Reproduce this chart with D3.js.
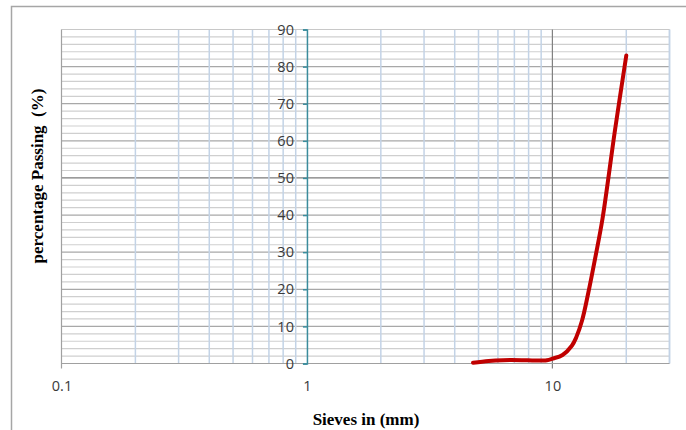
<!DOCTYPE html>
<html>
<head>
<meta charset="utf-8">
<script src="https://cdn.jsdelivr.net/npm/d3@7"></script>
<style>
  body { margin: 0; background: #fff; }
</style>
</head>
<body>
<div id="chart"></div>
<script>
// sieve size (mm) and % passing
const sieves = [4.75, 5.5, 6.3, 7.5, 8.5, 9.5, 10, 11, 12, 12.5, 13.2, 14, 15, 16, 18, 20];
const passing = [0.2, 0.7, 0.9, 0.9, 0.8, 0.9, 1.3, 2.3, 4.8, 7, 11.5, 19, 29, 39, 63, 83];

const xTicks = [0.1, 1, 10];
const yTicks = [0, 10, 20, 30, 40, 50, 60, 70, 80, 90];

const W = 686, H = 430;
const svg = d3.select("#chart").append("svg")
  .attr("width", W).attr("height", H);

// outer frame (only top & left show)
svg.append("path")
  .attr("d", `M11.5,${H} V6.5 H${W}`)
  .attr("fill", "none").attr("stroke", "#a6a6a6").attr("stroke-width", 1.5);

const x = d3.scaleLog().domain([0.1, 30]).range([61.5, 669.5]);
const y = d3.scaleLinear().domain([0, 90]).range([363.5, 29.5]);

const g = svg.append("g");

// horizontal grid every 2
const hLines = d3.range(2, 90, 2);
g.selectAll(".hgrid").data(hLines).enter().append("line")
  .attr("x1", x(0.1)).attr("x2", x(30))
  .attr("y1", d => y(d)).attr("y2", d => y(d))
  .attr("stroke", d => d === 50 ? "#7a7a7a" : (d % 10 === 0 ? "#a8a8a8" : "#cfcfcf"))
  .attr("stroke-width", 1.2);

// vertical grid (minor, light blue)
const vLines = [];
[0.1, 1, 10].forEach(dec => d3.range(2, 10).forEach(k => vLines.push(dec * k)));
vLines.push(30);
g.selectAll(".vgrid").data(vLines.filter(v => v <= 30)).enter().append("line")
  .attr("x1", d => x(d)).attr("x2", d => x(d))
  .attr("y1", y(90)).attr("y2", y(0))
  .attr("stroke", "#c3d3e6").attr("stroke-width", 1.5);

// top line
g.append("line")
  .attr("x1", x(0.1)).attr("x2", x(30)).attr("y1", y(90)).attr("y2", y(90))
  .attr("stroke", "#c8c8c8").attr("stroke-width", 1.2);

// major vertical at 10 and left edge
g.append("line")
  .attr("x1", x(10)).attr("x2", x(10)).attr("y1", y(90)).attr("y2", y(0) + 5)
  .attr("stroke", "#808080").attr("stroke-width", 1.2);
g.append("line")
  .attr("x1", x(0.1)).attr("x2", x(0.1)).attr("y1", y(90)).attr("y2", y(0) + 5)
  .attr("stroke", "#a0a0a0").attr("stroke-width", 1.2);

// x axis line
g.append("line")
  .attr("x1", x(0.1)).attr("x2", x(30)).attr("y1", y(0)).attr("y2", y(0))
  .attr("stroke", "#a0a0a0").attr("stroke-width", 1.2);

// y axis at x = 1
const yAxis = svg.append("g")
  .attr("transform", `translate(${x(1)},0)`)
  .call(d3.axisLeft(y).tickValues(yTicks).tickSize(4).tickPadding(9));
yAxis.select(".domain").attr("stroke", "#3a8c9c").attr("stroke-width", 1.5);
yAxis.selectAll(".tick line").attr("stroke", "#3a8c9c").attr("stroke-width", 1.5);
yAxis.selectAll("text")
  .attr("font-family", "Open Sans, Liberation Sans, sans-serif")
  .attr("font-size", 14.5).attr("fill", "#3a3a3a");

// x tick labels
const xAxis = svg.append("g")
  .attr("transform", `translate(0,${y(0)})`)
  .call(d3.axisBottom(x).tickValues(xTicks).tickFormat(d3.format("")).tickSize(0).tickPadding(17));
xAxis.select(".domain").remove();
xAxis.selectAll("text")
  .attr("font-family", "Open Sans, Liberation Sans, sans-serif")
  .attr("font-size", 14.5).attr("fill", "#3a3a3a");

// curve
const pts = sieves.map((s, i) => [s, passing[i]]);
svg.append("path")
  .datum(pts)
  .attr("fill", "none")
  .attr("stroke", "#c00000")
  .attr("stroke-width", 4)
  .attr("stroke-linecap", "round")
  .attr("d", d3.line().x(d => x(d[0])).y(d => y(d[1])).curve(d3.curveCatmullRom));

// axis titles
svg.append("text")
  .attr("transform", `translate(43,176) rotate(-90)`)
  .attr("text-anchor", "middle")
  .attr("font-family", "Liberation Serif, Times New Roman, serif")
  .attr("font-weight", "bold").attr("font-size", 17)
  .attr("xml:space", "preserve")
  .text("percentage Passing  (%)");

svg.append("text")
  .attr("x", 366).attr("y", 425)
  .attr("text-anchor", "middle")
  .attr("font-family", "Liberation Serif, Times New Roman, serif")
  .attr("font-weight", "bold").attr("font-size", 17)
  .text("Sieves in (mm)");
</script>
</body>
</html>
